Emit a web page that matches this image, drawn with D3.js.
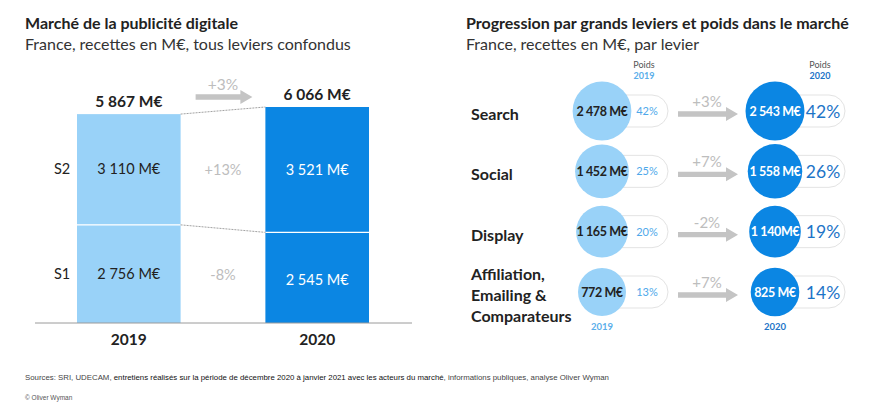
<!DOCTYPE html>
<html><head><meta charset="utf-8">
<script src="https://cdn.jsdelivr.net/npm/d3@7"></script>
<style>
body{margin:0;background:#fff;}
svg{display:block;font-family:Lato,"Open Sans",sans-serif;}
</style></head>
<body><svg id="c" width="870" height="407"></svg>
<script>
// ---- Left chart data ----
const years = ["2019", "2020"];
const semesters = ["S1", "S2"];
const s1Values = [2756, 2545];
const s2Values = [3110, 3521];
const totalValues = [5867, 6066];
const semesterGrowth = ["-8%", "+13%"];
const totalGrowth = "+3%";

// ---- Right chart data ----
const levers = ["Search", "Social", "Display", "Affiliation, Emailing & Comparateurs"];
const leverLines = [["Search"], ["Social"], ["Display"], ["Affiliation,", "Emailing &", "Comparateurs"]];
const revenue2019 = [2478, 1452, 1165, 772];
const revenue2020 = [2543, 1558, 1140, 825];
const labels2020 = ["2 543 M€", "1 558 M€", "1 140M€", "825 M€"];
const share2019 = [42, 25, 20, 13];
const share2020 = [42, 26, 19, 14];
const leverGrowth = ["+3%", "+7%", "-2%", "+7%"];

const LIGHT = "#99d2f8", DARK = "#0b86e3", TXT = "#222", GREY = "#bdbdbd";
const fmt = v => d3.format(",")(v).replace(/,/g, " ") + " M€";

const svg = d3.select("#c");

// ---------- Titles ----------
function title(x, t1, t2) {
  svg.append("text").attr("x", x).attr("y", 29).attr("font-size", 16).attr("font-weight", 700)
    .attr("fill", TXT).text(t1);
  svg.append("text").attr("x", x).attr("y", 50).attr("font-size", 16).attr("fill", "#333").text(t2);
}
title(25, "Marché de la publicité digitale", "France, recettes en M€, tous leviers confondus");
title(466, "Progression par grands leviers et poids dans le marché", "France, recettes en M€, par levier");

// ---------- Left stacked bars ----------
const x = d3.scaleBand().domain(years).range([77, 369]).paddingInner(0.45);
const y = d3.scaleLinear().domain([0, d3.max(totalValues)]).range([323, 107]);
const bw = x.bandwidth();
const fills = [LIGHT, DARK];
const txtFill = [TXT, "#fff"];

years.forEach((yr, i) => {
  const x0 = x(yr);
  svg.append("rect").attr("x", x0).attr("y", y(s1Values[i])).attr("width", bw)
    .attr("height", y(0) - y(s1Values[i])).attr("fill", fills[i]);
  svg.append("rect").attr("x", x0).attr("y", y(s1Values[i] + s2Values[i])).attr("width", bw)
    .attr("height", y(s1Values[i]) - y(s1Values[i] + s2Values[i])).attr("fill", fills[i]);
  svg.append("line").attr("x1", x0).attr("x2", x0 + bw).attr("y1", y(s1Values[i])).attr("y2", y(s1Values[i]))
    .attr("stroke", "#fff").attr("stroke-width", 1.2);
  const cx = x0 + bw / 2;
  svg.append("text").attr("x", cx).attr("y", (y(0) + y(s1Values[i])) / 2 + 5 + i * 2).attr("text-anchor", "middle")
    .attr("font-size", 14.5).attr("fill", txtFill[i]).text(fmt(s1Values[i]));
  svg.append("text").attr("x", cx).attr("y", (y(s1Values[i]) + y(s1Values[i] + s2Values[i])) / 2 + 5).attr("text-anchor", "middle")
    .attr("font-size", 14.5).attr("fill", txtFill[i]).text(fmt(s2Values[i]));
  svg.append("text").attr("x", cx).attr("y", y(totalValues[i]) - 7).attr("text-anchor", "middle")
    .attr("font-size", 15.5).attr("font-weight", 700).attr("fill", TXT).text(fmt(totalValues[i]));
  svg.append("text").attr("x", cx).attr("y", 345).attr("text-anchor", "middle")
    .attr("font-size", 15.5).attr("font-weight", 700).attr("fill", TXT).text(yr);
});

// connectors
const xr = x(years[0]) + bw, xl = x(years[1]);
[[totalValues[0], totalValues[1]], [s1Values[0], s1Values[1]]].forEach(([a, b]) => {
  svg.append("line").attr("x1", xr).attr("x2", xl).attr("y1", y(a)).attr("y2", y(b))
    .attr("stroke", "#8a8a8a").attr("stroke-width", 0.8).attr("stroke-dasharray", "2,1");
});

// semester labels & growth
const midX = (xr + xl) / 2;
semesters.forEach((s, k) => {
  const vals = k === 0 ? s1Values : s2Values;
  const base = k === 0 ? 0 : s1Values[0];
  const yy = (y(base) + y(base + vals[0])) / 2 + 5;
  svg.append("text").attr("x", 54).attr("y", yy).attr("font-size", 14.5).attr("fill", TXT).text(s);
  svg.append("text").attr("x", midX).attr("y", yy + 1).attr("text-anchor", "middle")
    .attr("font-size", 14.5).attr("fill", GREY).text(semesterGrowth[k]);
});

// axis baseline
svg.append("line").attr("x1", 35).attr("x2", 412).attr("y1", y(0)).attr("y2", y(0))
  .attr("stroke", "#9a9a9a").attr("stroke-width", 1);

// arrow helper
function arrow(x1, x2, yc) {
  const h = 12, sh = 2.7, hh = 7;
  svg.append("path").attr("d",
    `M${x1},${yc - sh}L${x2 - h},${yc - sh}L${x2 - h},${yc - hh}L${x2},${yc}L${x2 - h},${yc + hh}L${x2 - h},${yc + sh}L${x1},${yc + sh}Z`)
    .attr("fill", "#c4c4c4");
}
arrow(xr + 15, xl - 13, 97);
svg.append("text").attr("x", midX).attr("y", 90).attr("text-anchor", "middle")
  .attr("font-size", 15.5).attr("fill", GREY).text(totalGrowth);

// ---------- Right: circles ----------
const rowY = d3.scalePoint().domain(levers).range([111, 292]);
const cols = d3.scalePoint().domain(years).range([602, 775]);
const allRev = revenue2019.concat(revenue2020);
const r = d3.scaleLog().domain(d3.extent(allRev)).range([24, 29.5]);
const pillRight = { "2019": 668, "2020": 845 };

levers.forEach((lv, i) => {
  const cy = rowY(lv);
  const lines = leverLines[i];
  lines.forEach((ln, j) => {
    svg.append("text").attr("x", 471).attr("y", cy + 9 + (j - (lines.length - 1) / 2) * 21)
      .attr("font-size", 16).attr("font-weight", 700).attr("fill", TXT).text(ln);
  });
  years.forEach((yr, k) => {
    const cx = cols(yr);
    const v = k === 0 ? revenue2019[i] : revenue2020[i];
    const sh = k === 0 ? share2019[i] : share2020[i];
    const pr = pillRight[yr];
    svg.append("rect").attr("x", cx).attr("y", cy - 16).attr("width", pr - cx).attr("height", 32)
      .attr("rx", 16).attr("fill", "#fff").attr("stroke", "#e3e3e3").attr("stroke-width", 1);
    svg.append("circle").attr("cx", cx).attr("cy", cy).attr("r", r(v)).attr("fill", k === 0 ? LIGHT : DARK);
    svg.append("text").attr("x", cx).attr("y", cy + 4.5).attr("text-anchor", "middle")
      .attr("font-size", 12.5).attr("font-weight", 700).attr("fill", k === 0 ? TXT : "#fff")
      .attr("letter-spacing", -0.4)
      .text(k === 0 ? fmt(v) : labels2020[i]);
    const pcx = k === 0 ? 647 : 823;
    svg.append("text").attr("x", pcx).attr("y", cy + (k === 0 ? 4 : 6.5)).attr("text-anchor", "middle")
      .attr("font-size", k === 0 ? 11 : 17.5).attr("fill", k === 0 ? "#4ea8ea" : "#1d74c7")
      .text(sh + "%");
  });
  arrow(678, 738, cy + 3);
  svg.append("text").attr("x", 707).attr("y", cy - 4).attr("text-anchor", "middle")
    .attr("font-size", 15).attr("fill", GREY).text(leverGrowth[i]);
});

// Poids headers and bottom year labels
years.forEach((yr, k) => {
  const hx = k === 0 ? 644 : 820;
  const col = k === 0 ? "#5aaeea" : "#1d74c7";
  svg.append("text").attr("x", hx).attr("y", 68).attr("text-anchor", "middle")
    .attr("font-size", 9).attr("fill", "#555").text("Poids");
  svg.append("text").attr("x", hx).attr("y", 79).attr("text-anchor", "middle")
    .attr("font-size", 9).attr("font-weight", 700).attr("fill", col).text(yr);
  svg.append("text").attr("x", cols(yr)).attr("y", 330).attr("text-anchor", "middle")
    .attr("font-size", 9.5).attr("font-weight", 700).attr("fill", col).text(yr);
});

// ---------- Footer ----------
const src = svg.append("text").attr("x", 25).attr("y", 380).attr("font-size", 10)
  .attr("font-family", "'Liberation Sans Narrow','Liberation Sans',sans-serif").attr("fill", "#444");
src.append("tspan").text("Sources: SRI, UDECAM, ");
src.append("tspan").attr("fill", "#111").text("entretiens réalisés sur la période de décembre 2020 à janvier 2021 avec les acteurs du marché");
src.append("tspan").text(", informations publiques, analyse Oliver Wyman");
const natural = src.node().getComputedTextLength();
src.attr("font-size", 10 * 585 / natural);
svg.append("text").attr("x", 25).attr("y", 400).attr("font-size", 6.5)
  .attr("font-family", "'Liberation Sans Narrow','Liberation Sans',sans-serif").attr("fill", "#555").text("© Oliver Wyman");
</script></body></html>
